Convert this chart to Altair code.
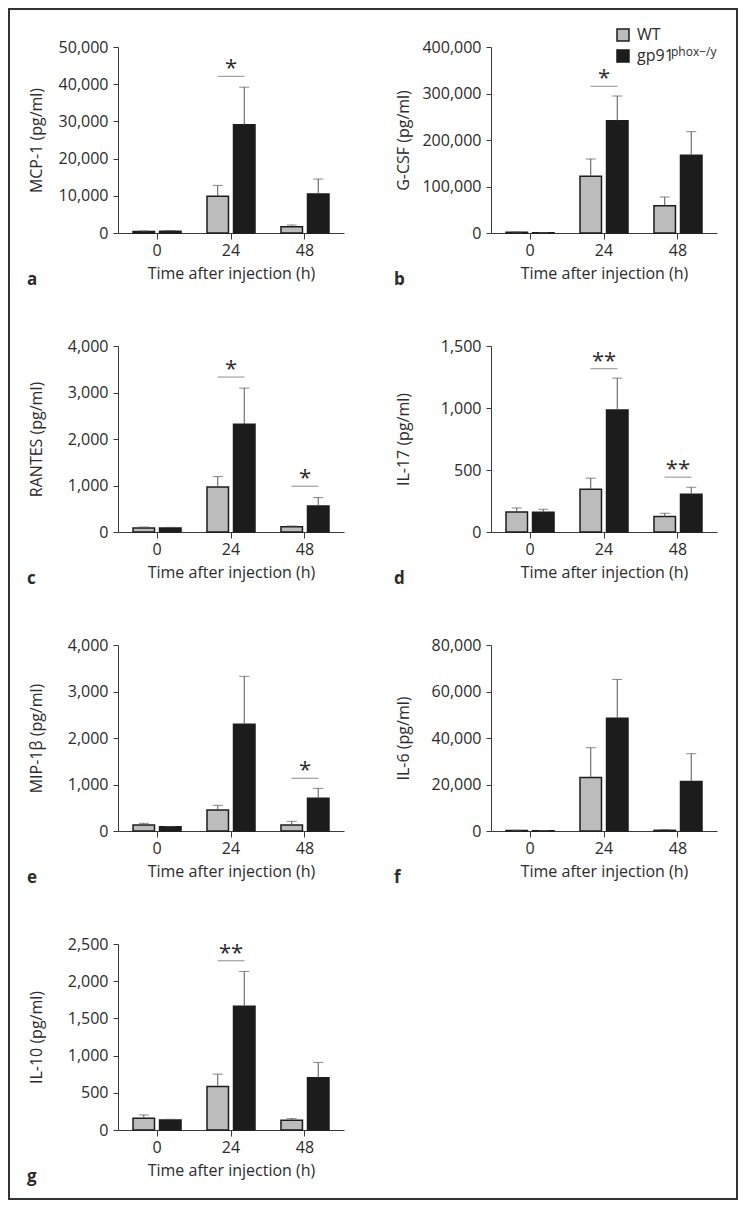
import altair as alt
import pandas as pd

TIMES = ["0", "24", "48"]
GROUPS = ["WT", "gp91"]
LETTERS = ["a", "b", "c", "d", "e", "f", "g"]
Y_TITLES = ["MCP-1 (pg/ml)", "G-CSF (pg/ml)", "RANTES (pg/ml)", "IL-17 (pg/ml)",
            "MIP-1β (pg/ml)", "IL-6 (pg/ml)", "IL-10 (pg/ml)"]
Y_MAX = [50000, 400000, 4000, 1500, 4000, 80000, 2500]
Y_STEP = [10000, 100000, 1000, 500, 1000, 20000, 500]

WT_MEAN = [
    [400, 9900, 1700],
    [1400, 121900, 58800],
    [86, 969, 115],
    [162, 345, 124],
    [129, 452, 129],
    [200, 23000, 290],
    [157, 584, 130],
]
WT_SEM = [
    [150, 2900, 450],
    [600, 37200, 18600],
    [22, 223, 14],
    [32, 89, 27],
    [36, 100, 79],
    [100, 12830, 290],
    [45, 167, 23],
]
KO_MEAN = [
    [500, 29100, 10500],
    [500, 241600, 167000],
    [86, 2319, 560],
    [159, 983, 304],
    [93, 2294, 702],
    [150, 48490, 21300],
    [135, 1664, 701],
]
KO_SEM = [
    [150, 10100, 4000],
    [500, 53000, 50900],
    [14, 776, 180],
    [24, 258, 57],
    [5, 1032, 215],
    [50, 16700, 11940],
    [9, 467, 207],
]
SIG_TIME = [["24"], ["24"], ["24", "48"], ["24", "48"], ["48"], [], ["24"]]
SIG_Y = [[42100], [315400], [3332, 984], [1317, 442], [1133], [], [2275]]
SIG_TEXT = [["*"], ["*"], ["*", "*"], ["**", "**"], ["*"], [], ["**"]]

GRAY = "#bcbcbc"
BLACK = "#1c1c1c"
INK = "#2b2b2b"
FONT = "Open Sans"
W, H = 226, 186


def panel(i):
    rows = []
    for k, t in enumerate(TIMES):
        rows.append({"time": t, "group": "WT", "mean": WT_MEAN[i][k],
                     "upper": WT_MEAN[i][k] + WT_SEM[i][k]})
        rows.append({"time": t, "group": "gp91", "mean": KO_MEAN[i][k],
                     "upper": KO_MEAN[i][k] + KO_SEM[i][k]})
    df = pd.DataFrame(rows)
    right = i % 2 == 1

    xenc = alt.X("time:N", sort=TIMES,
                 scale=alt.Scale(domain=TIMES, paddingInner=0.351, paddingOuter=0.203),
                 axis=alt.Axis(title="Time after injection (h)", labelAngle=0,
                               tickSize=6, labelPadding=3, titlePadding=7))
    xoff = alt.XOffset("group:N", sort=GROUPS,
                       scale=alt.Scale(domain=GROUPS, paddingInner=0.19, paddingOuter=0))
    yaxis = alt.Axis(title=Y_TITLES[i], values=list(range(0, Y_MAX[i] + 1, Y_STEP[i])),
                     format=",.0f", tickSize=5, labelPadding=5,
                     titleX=-88 if right else -82, titleY=H / 2, titleAngle=270,
                     titleAlign="center", titleBaseline="middle")
    yscale = alt.Scale(domain=[0, Y_MAX[i]], nice=False)

    if i == 1:
        legend = alt.Legend(orient="none", legendX=124, legendY=-20, title=None,
                            symbolType="square", symbolSize=144,
                            symbolStrokeColor=BLACK, symbolStrokeWidth=1.5,
                            labelFontSize=16, labelFont=FONT, labelColor=INK,
                            labelOffset=6, rowPadding=3, padding=0)
    else:
        legend = None
    color = alt.Color("group:N", sort=GROUPS,
                      scale=alt.Scale(domain=GROUPS, range=[GRAY, BLACK]), legend=legend)

    base = alt.Chart(df)
    bars = base.mark_bar(stroke=BLACK, strokeWidth=1.5).encode(
        x=xenc, xOffset=xoff, y=alt.Y("mean:Q", scale=yscale, axis=yaxis), color=color)
    err = base.mark_rule(color="#555555", strokeWidth=1).encode(
        x=xenc, xOffset=xoff, y=alt.Y("mean:Q", scale=yscale, axis=yaxis), y2="upper:Q")
    caps = base.mark_tick(color="#555555", size=10, thickness=1).encode(
        x=xenc, xOffset=xoff, y=alt.Y("upper:Q", scale=yscale, axis=yaxis))
    layers = [bars, err, caps]

    if SIG_TIME[i]:
        sdf = pd.DataFrame({"time": SIG_TIME[i], "sig": SIG_Y[i], "txt": SIG_TEXT[i]})
        sbase = alt.Chart(sdf)
        layers.append(sbase.mark_tick(color="#777777", size=27, thickness=1.2).encode(
            x=xenc, y=alt.Y("sig:Q", scale=yscale, axis=yaxis)))
        layers.append(sbase.mark_text(fontSize=22, font=FONT, color=INK,
                                      baseline="alphabetic", dy=-1).encode(
            x=xenc, y=alt.Y("sig:Q", scale=yscale, axis=yaxis), text="txt:N"))

    ldf = pd.DataFrame({"letter": [LETTERS[i]]})
    layers.append(alt.Chart(ldf).mark_text(align="left", baseline="alphabetic",
                                           fontSize=17, fontWeight="bold",
                                           font=FONT, color=INK).encode(
        x=alt.value(-97 if right else -91), y=alt.value(238), text="letter:N"))

    if i == 1:
        sup = pd.DataFrame({"s": ["phox−/y"]})
        layers.append(alt.Chart(sup).mark_text(align="left", baseline="alphabetic",
                                               fontSize=12, font=FONT, color=INK).encode(
            x=alt.value(180), y=alt.value(9), text="s:N"))
    if i == 0:
        fdf = pd.DataFrame({"f": [1]})
        layers.append(alt.Chart(fdf).mark_rect(filled=False, stroke="#333333",
                                               strokeWidth=2).encode(
            x=alt.value(-109), x2=alt.value(619), y=alt.value(-38), y2=alt.value(1152)))

    return alt.layer(*layers).properties(width=W, height=H)


panels = [panel(i) for i in range(7)]

chart = alt.concat(*panels, columns=2, spacing={"row": 113, "column": 147},
                   bounds="flush").resolve_scale(color="independent").resolve_legend(
    color="independent").properties(padding=0).configure_view(stroke=None).configure_axis(
    labelFont=FONT, labelFontSize=16, labelColor=INK,
    titleFont=FONT, titleFontSize=16, titleFontWeight="normal", titleColor=INK,
    domainColor="#3a3a3a", tickColor="#3a3a3a", domainWidth=1, tickWidth=1, grid=False)

chart.save("out.html", embed_options={"renderer": "svg", "actions": False})
